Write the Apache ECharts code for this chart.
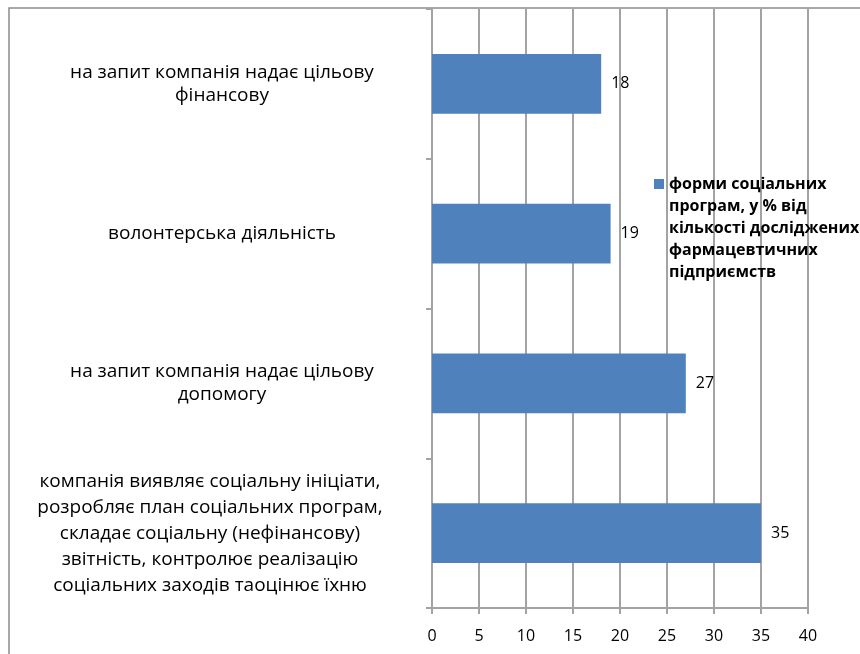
<!DOCTYPE html>
<html>
<head>
<meta charset="utf-8">
<script src="https://cdn.jsdelivr.net/npm/echarts@6/dist/echarts.min.js"></script>
<style>
  html, body { margin: 0; padding: 0; background: #fff; }
  #chart { width: 860px; height: 654px; }
</style>
</head>
<body>
<div id="chart"></div>
<script>
// categories bottom-to-top (category axis order)
const categories = [
  'компанія виявляє соціальну ініціати,\nрозробляє план соціальних програм,\nскладає соціальну (нефінансову)\nзвітність, контролює реалізацію\nсоціальних заходів таоцінює їхню',
  'на запит компанія надає цільову\nдопомогу',
  'волонтерська діяльність',
  'на запит компанія надає цільову\nфінансову'
]
const values = [35, 27, 19, 18]
const seriesName = 'форми соціальних\nпрограм, у % від\nкількості досліджених\nфармацевтичних\nпідприємств'
const xTicks = [0, 40, 5]

const font = '"Open Sans", "Noto Sans", sans-serif'
const gridColor = '#a3a3a3'

const chart = echarts.init(document.getElementById('chart'))

chart.setOption({
  backgroundColor: '#fff',
  animation: false,
  textStyle: { fontFamily: font, color: '#000' },
  graphic: [{
    type: 'rect',
    shape: { x: 9, y: 8, width: 900, height: 700 },
    style: { fill: 'none', stroke: '#8c8c8c', lineWidth: 1.5 },
    silent: true
  }],
  grid: { left: 432, right: 52, top: 9, bottom: 46, outerBoundsMode: 'none', containLabel: false },
  legend: {
    left: 654,
    top: 85,
    padding: 0,
    icon: 'rect',
    itemWidth: 10,
    itemHeight: 10,
    // leading blank lines keep the marker beside the first line
    formatter: name => '\n\n\n\n' + name,
    textStyle: {
      fontFamily: font,
      fontSize: 16,
      fontWeight: 'bold',
      color: '#000',
      lineHeight: 22
    }
  },
  xAxis: {
    type: 'value',
    min: xTicks[0],
    max: xTicks[1],
    interval: xTicks[2],
    axisLine: { show: true, lineStyle: { color: gridColor, width: 2 } },
    axisTick: { show: true, length: 6, lineStyle: { color: gridColor, width: 2 } },
    axisLabel: { fontSize: 16, color: '#000', margin: 20 },
    splitLine: { show: true, lineStyle: { color: gridColor, width: 2 } }
  },
  yAxis: {
    type: 'category',
    data: categories.map((c, i) => i === 0
      ? { value: c, textStyle: { lineHeight: 26, align: 'center', fontSize: 19, color: '#000', padding: [0, 24, 0, 0] } }
      : { value: c }),
    axisLine: { show: true, lineStyle: { color: gridColor, width: 2 } },
    axisTick: { show: true, length: 6, lineStyle: { color: gridColor, width: 2 } },
    axisLabel: {
      fontSize: 19,
      color: '#000',
      align: 'center',
      margin: 210,
      lineHeight: 23,
      interval: 0
    }
  },
  series: [{
    name: seriesName,
    type: 'bar',
    data: values,
    barWidth: '40%',
    itemStyle: { color: '#4f81bd' },
    label: {
      show: true,
      position: 'right',
      distance: 10,
      fontSize: 16,
      color: '#000',
      fontFamily: font
    }
  }]
})
</script>
</body>
</html>
